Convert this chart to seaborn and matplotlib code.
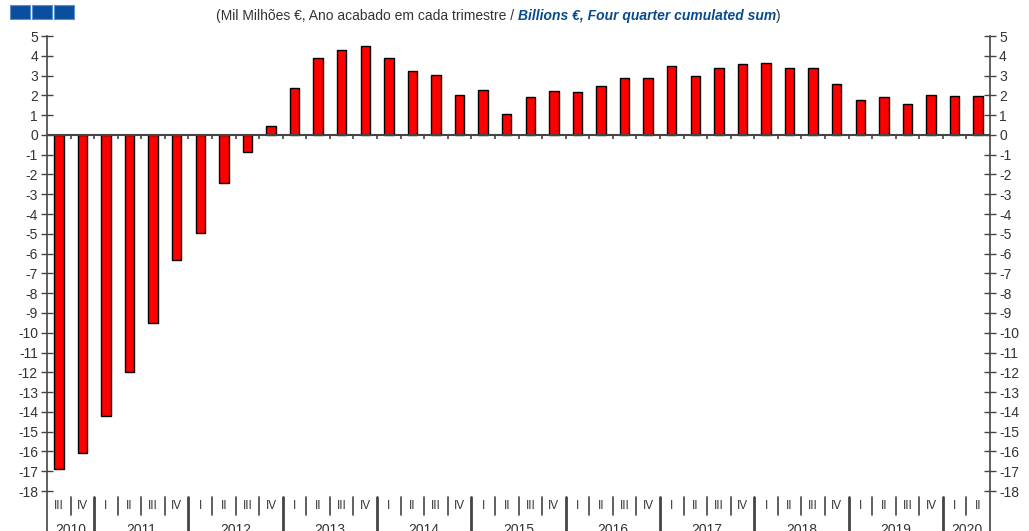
import numpy as np
import pandas as pd
import matplotlib
matplotlib.use("Agg")
import matplotlib.pyplot as plt
from matplotlib.patches import Rectangle
from matplotlib.transforms import blended_transform_factory
import seaborn as sns

# ---- data ----
years = ["2010", "2011", "2012", "2013", "2014", "2015", "2016", "2017", "2018", "2019", "2020"]
quarters_per_year = [2, 4, 4, 4, 4, 4, 4, 4, 4, 4, 2]
quarter_labels = (["III", "IV"] + ["I", "II", "III", "IV"] * 9 + ["I", "II"])
values = [-16.9, -16.1, -14.2, -12.0, -9.5, -6.3, -4.95, -2.42, -0.85, 0.43,
          2.38, 3.88, 4.28, 4.48, 3.9, 3.22, 3.05, 2.0, 2.28, 1.05,
          1.9, 2.2, 2.18, 2.48, 2.86, 2.86, 3.5, 2.97, 3.37, 3.57,
          3.62, 3.39, 3.4, 2.55, 1.74, 1.92, 1.57, 2.02, 1.97, 1.97]
yticks = list(range(5, -19, -1))

W, H = 1029, 531
fig = plt.figure(figsize=(W / 100, H / 100), dpi=100)
sns.set_style("white")
plt.rcParams['font.family'] = ['Liberation Sans', 'DejaVu Sans']

# axes: y=5 at px 36, y=-18 at px 491, extended to figure bottom
left_px, right_px, top_px = 47, 990, 36
px_per_unit = (491 - 36) / 23.0
ybot = -18 - (H - 491) / px_per_unit
ax = fig.add_axes([left_px / W, 0, (right_px - left_px) / W, (H - top_px) / H])

df = pd.DataFrame({"q": np.arange(len(values)), "v": values})
sns.barplot(data=df, x="q", y="v", color="#ff0000", saturation=1, width=0.4,
            edgecolor="black", linewidth=1.0, ax=ax, zorder=3)

n = len(values)
ax.set_xlim(-0.5, n - 0.5)
ax.set_ylim(ybot, 5)
ax.set_xlabel("")
ax.set_ylabel("")
ax.set_xticks([])

axis_col = "#444444"
txt_col = "#333333"
for s in ["top", "bottom"]:
    ax.spines[s].set_visible(False)
for s in ["left", "right"]:
    ax.spines[s].set_visible(True)
    ax.spines[s].set_color(axis_col)
    ax.spines[s].set_linewidth(1.2)

ax.set_yticks(yticks)
ax.set_yticklabels([str(t) for t in yticks])
ax.tick_params(axis="y", which="both", left=True, right=True, labelleft=True,
               labelright=True, direction="inout", length=9, width=1.0,
               color=axis_col, labelsize=10, labelcolor=txt_col, pad=2)

# zero line with small ticks at category boundaries
ax.axhline(0, color=axis_col, lw=1.5, zorder=4)
bounds = np.arange(n - 1) + 0.5
ax.vlines(bounds, -0.2, 0, color=axis_col, lw=1.2, zorder=4)

# category axis below plot
tr = blended_transform_factory(ax.transData, fig.transFigure)
def fy(px):
    return 1 - px / H

for i, lab in enumerate(quarter_labels):
    ax.text(i, fy(506), lab, transform=tr, ha="center", va="center",
            fontsize=8.5, color=txt_col)

year_ends = np.cumsum(quarters_per_year)
year_starts = year_ends - np.array(quarters_per_year)
year_bounds = set((year_ends[:-1] - 0.5).tolist())
for b in bounds:
    if b in year_bounds:
        ax.plot([b, b], [fy(497), fy(H + 2)], transform=tr, color=axis_col,
                lw=2.0, clip_on=False)
    else:
        ax.plot([b, b], [fy(497), fy(515)], transform=tr, color=axis_col,
                lw=1.2, clip_on=False)

for y, s, e in zip(years, year_starts, year_ends):
    ax.text((s + e - 1) / 2, fy(523.5), y, transform=tr, ha="center", va="top",
            fontsize=10, color=txt_col)

# header squares
for x0 in [10, 32, 54]:
    fig.patches.append(Rectangle((x0 / W, 1 - 19 / H), 20 / W, 14 / H,
                                 transform=fig.transFigure, facecolor="#0a4f9e",
                                 edgecolor="#5b8fc9", lw=0.8))

# title composed of parts
fig.canvas.draw()
renderer = fig.canvas.get_renderer()
parts = [("(Mil Milhões €, Ano acabado em cada trimestre / ", "#333333", "normal", "normal"),
         ("Billions €, Four quarter cumulated sum", "#0a4a8e", "bold", "italic"),
         (")", "#333333", "normal", "normal")]
texts = []
total = 0
for s, c, w, st in parts:
    t = fig.text(0, fy(16), s, color=c, fontweight=w, fontstyle=st,
                 fontsize=10, va="center", ha="left")
    bb = t.get_window_extent(renderer)
    texts.append((t, bb.width))
    total += bb.width
x = 498 - total / 2
for t, wdt in texts:
    t.set_x(x / W)
    x += wdt

fig.savefig("out.png", dpi=100)
